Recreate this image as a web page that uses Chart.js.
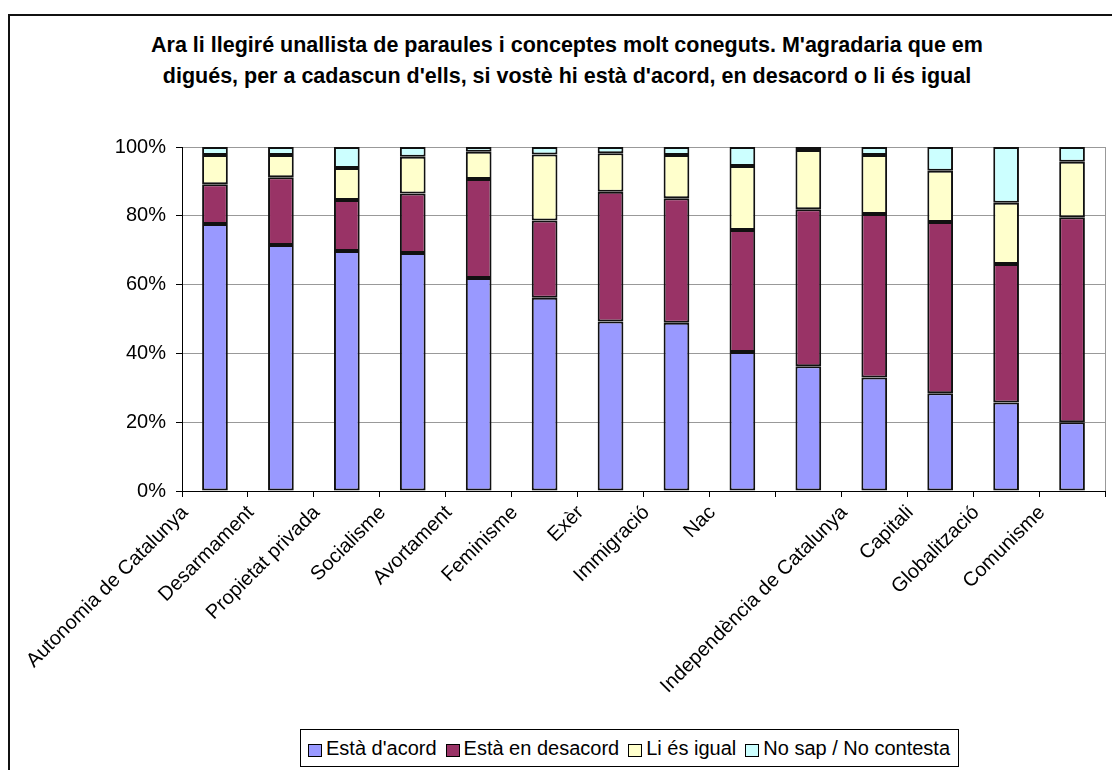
<!DOCTYPE html>
<html>
<head>
<meta charset="utf-8">
<script src="https://cdn.jsdelivr.net/npm/chart.js@4.4.1/dist/chart.umd.min.js"></script>
<style>
  html, body { margin: 0; padding: 0; width: 1112px; height: 770px; overflow: hidden; background: #fff; }
  #frame { position: absolute; left: 8px; top: 14px; width: 1300px; height: 900px; border-left: 2px solid #111; border-top: 2px solid #111; }
  #wrap { position: absolute; left: 0; top: 0; width: 1112px; height: 770px; }
  #title { position: absolute; left: 0; width: 1134px; top: 30px; text-align: center; font: bold 21.5px "Liberation Sans", Arial, sans-serif; line-height: 31px; color: #000; }
  #legend { position: absolute; left: 300px; top: 729px; height: 36px; border: 1px solid #000; background: #fff; display: flex; align-items: center; padding: 0 8px 0 7px; font: 20px "Liberation Sans", Arial, sans-serif; color: #000; white-space: nowrap; }
  #legend .it { display: flex; align-items: center; margin-right: 9px; }
  #legend .it:last-child { margin-right: 0; }
  #legend .sw { width: 12px; height: 11px; border: 1px solid #000; margin-right: 4px; margin-top: 4px; }
</style>
</head>
<body>
<div id="frame"></div>
<div id="title">Ara li llegiré unallista de paraules i conceptes molt coneguts. M'agradaria que em<br>digués, per a cadascun d'ells, si vostè hi està d'acord, en desacord o li és igual</div>
<div id="wrap"><canvas id="c" width="1112" height="770"></canvas></div>
<div id="legend"></div>
<script>
const categories = ["Autonomia de Catalunya", "Desarmament", "Propietat privada", "Socialisme", "Avortament", "Feminisme", "Exèr", "Immigració", "Nac", "", "Independència de Catalunya", "Capitali", "Globalització", "Comunisme"];
const seriesNames = ["Està d'acord", "Està en desacord", "Li és igual", "No sap / No contesta"];
const acord     = [77.6, 71.5, 69.8, 69.2, 61.9, 56.2, 49.3, 48.9, 40.4, 36.3, 33.0, 28.4, 25.7, 20.0];
const desacord  = [11.6, 19.7, 14.8, 17.3, 28.8, 22.4, 37.7, 36.2, 35.5, 45.6, 47.5, 49.8, 40.3, 59.6];
const igual     = [ 8.5,  6.5,  9.3, 10.7,  7.9, 19.2, 11.2, 12.6, 18.6, 17.2, 17.2, 14.9, 17.8, 16.1];
const nsnc      = [ 2.3,  2.3,  6.1,  2.8,  1.4,  2.2,  1.8,  2.3,  5.5,  0.9,  2.3,  6.9, 16.2,  4.3];
const yTicks = [0, 20, 40, 60, 80, 100];
const colors = ["#9999FF", "#993366", "#FFFFCC", "#CCFFFF"];

const seriesData = [acord, desacord, igual, nsnc];

const legend = document.getElementById('legend');
seriesNames.forEach((n, i) => {
  const it = document.createElement('div'); it.className = 'it';
  const sw = document.createElement('div'); sw.className = 'sw'; sw.style.background = colors[i];
  const tx = document.createElement('span'); tx.textContent = n;
  it.appendChild(sw); it.appendChild(tx); legend.appendChild(it);
});

const plotFrame = {
  id: 'plotFrame',
  afterDraw(chart) {
    const a = chart.chartArea, ctx = chart.ctx;
    ctx.save();
    ctx.strokeStyle = '#999';
    ctx.lineWidth = 1;
    ctx.beginPath();
    ctx.moveTo(Math.round(a.right) + 0.5, a.top);
    ctx.lineTo(Math.round(a.right) + 0.5, a.bottom);
    ctx.stroke();
    ctx.restore();
  }
};

new Chart(document.getElementById('c'), {
  type: 'bar',
  data: {
    labels: categories,
    datasets: seriesData.map((d, i) => ({
      label: seriesNames[i],
      data: d,
      backgroundColor: colors[i],
      borderColor: '#111',
      borderWidth: 2,
      borderSkipped: false,
      categoryPercentage: 1,
      barPercentage: 0.39
    }))
  },
  options: {
    responsive: false,
    animation: false,
    devicePixelRatio: 1,
    layout: { padding: { top: 147, right: 7, bottom: 0, left: 0 } },
    plugins: { legend: { display: false }, title: { display: false }, tooltip: { enabled: false } },
    scales: {
      x: {
        stacked: true,
        afterFit(s) { s.height = 279; },
        border: { color: '#000', width: 1 },
        grid: { offset: true, drawOnChartArea: false, tickLength: 6, tickColor: '#000' },
        ticks: {
          autoSkip: false, maxRotation: 45, minRotation: 45,
          labelOffset: -30,
          font: { family: '"Liberation Sans", Arial, sans-serif', size: 20 },
          color: '#000', padding: 4
        }
      },
      y: {
        stacked: true,
        min: 0, max: 100,
        afterFit(s) { s.width = 182; },
        afterBuildTicks(s) { s.ticks = yTicks.map(v => ({ value: v })); },
        border: { color: '#000', width: 1 },
        grid: { color: '#999', tickLength: 6, tickColor: '#000' },
        ticks: {
          callback: v => v + '%',
          font: { family: '"Liberation Sans", Arial, sans-serif', size: 20 },
          color: '#000', padding: 10
        }
      }
    }
  },
  plugins: [plotFrame]
});
</script>
</body>
</html>
